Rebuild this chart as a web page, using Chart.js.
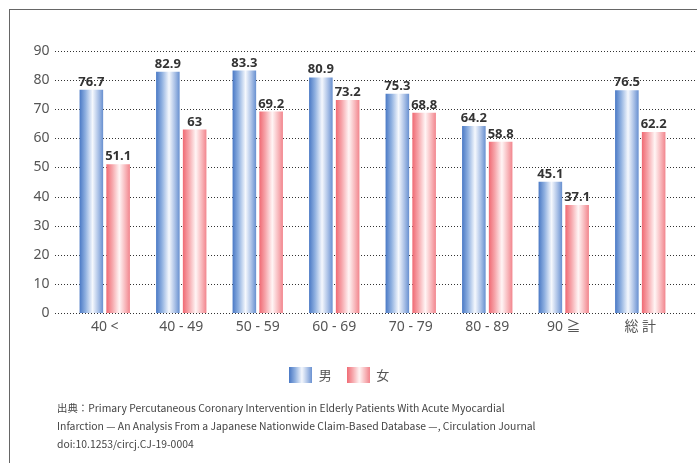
<!DOCTYPE html>
<html>
<head>
<meta charset="utf-8">
<script src="https://cdn.jsdelivr.net/npm/chart.js@4.4.1/dist/chart.umd.min.js"></script>
<style>
  html, body { margin: 0; padding: 0; background: #fff; }
  body { width: 697px; height: 463px; position: relative; overflow: hidden; }
  #frame { position: absolute; left: 9px; top: 9px; width: 800px; height: 600px; border: 1.5px solid #666; box-sizing: border-box; }
  #chart { position: absolute; left: 0; top: 0; }
  #source { position: absolute; left: 57px; top: 399px; font: 10.4px "Noto Sans CJK JP", sans-serif; line-height: 18px; color: #444; white-space: nowrap; }
</style>
</head>
<body>
<div id="frame"></div>
<canvas id="chart" width="697" height="463"></canvas>
<div id="source">
  出典：Primary Percutaneous Coronary Intervention in Elderly Patients With Acute Myocardial<br>
  Infarction — An Analysis From a Japanese Nationwide Claim-Based Database —, Circulation Journal<br>
  doi:10.1253/circj.CJ-19-0004
</div>
<script>
// data
const categories = ["40 <", "40 - 49", "50 - 59", "60 - 69", "70 - 79", "80 - 89", "90 ≧", "総 計"];
const seriesNames = ["男", "女"];
const maleValues = [76.7, 82.9, 83.3, 80.9, 75.3, 64.2, 45.1, 76.5];
const femaleValues = [51.1, 63, 69.2, 73.2, 68.8, 58.8, 37.1, 62.2];
const yTicks = [0, 10, 20, 30, 40, 50, 60, 70, 80, 90];

const CAT_PCT = 0.70;
const BAR_PCT = 0.88;

const blueStops = [[0, "#4a79c5"], [0.25, "#8fb0e0"], [0.55, "#f5f8fd"], [0.8, "#a9c0e6"], [1, "#6890d0"]];
const redStops = [[0, "#f06a73"], [0.25, "#f6a5aa"], [0.55, "#fff5f5"], [0.8, "#f8b8bc"], [1, "#f2858d"]];

// horizontal gradient across one bar, worked out from the x scale
function barFill(ctx, stops) {
  const chart = ctx.chart;
  const xs = chart.scales.x;
  if (ctx.type !== "data" || !xs || !xs.width) return stops[0][1];
  const cat = xs.width / categories.length;
  const slot = cat * CAT_PCT / 2;
  const cx = xs.getPixelForValue(ctx.dataIndex) + (ctx.datasetIndex - 0.5) * slot;
  const half = slot * BAR_PCT / 2;
  const g = chart.ctx.createLinearGradient(cx - half, 0, cx + half, 0);
  stops.forEach((s) => g.addColorStop(s[0], s[1]));
  return g;
}

// little swatch for the legend
function swatch(stops) {
  const c = document.createElement("canvas");
  c.width = 23;
  c.height = 16;
  const x = c.getContext("2d");
  const g = x.createLinearGradient(0, 0, 23, 0);
  stops.forEach((s) => g.addColorStop(s[0], s[1]));
  x.fillStyle = g;
  x.fillRect(0, 0, 23, 16);
  return c;
}

// dotted grid lines, running out to the right edge
const dottedGrid = {
  id: "dottedGrid",
  beforeDatasetsDraw(chart) {
    const ys = chart.scales.y;
    const c = chart.ctx;
    c.save();
    c.strokeStyle = "#333";
    c.lineWidth = 1;
    c.setLineDash([1, 2]);
    ys.ticks.forEach((t) => {
      const y = Math.round(ys.getPixelForValue(t.value)) + 0.5;
      c.beginPath();
      c.moveTo(55, y);
      c.lineTo(chart.width, y);
      c.stroke();
    });
    c.restore();
  },
};

// value labels over the bars
const valueLabels = {
  id: "valueLabels",
  afterDatasetsDraw(chart) {
    const c = chart.ctx;
    c.save();
    c.font = "bold 13px 'Open Sans', sans-serif";
    c.fillStyle = "#333";
    c.textAlign = "center";
    c.textBaseline = "alphabetic";
    chart.data.datasets.forEach((ds, di) => {
      chart.getDatasetMeta(di).data.forEach((bar, i) => {
        c.fillText(String(ds.data[i]), bar.x, bar.y - 4);
      });
    });
    c.restore();
  },
};

new Chart(document.getElementById("chart"), {
  type: "bar",
  data: {
    labels: categories,
    datasets: [
      {
        label: seriesNames[0],
        data: maleValues,
        backgroundColor: (ctx) => barFill(ctx, blueStops),
        categoryPercentage: CAT_PCT,
        barPercentage: BAR_PCT,
      },
      {
        label: seriesNames[1],
        data: femaleValues,
        backgroundColor: (ctx) => barFill(ctx, redStops),
        categoryPercentage: CAT_PCT,
        barPercentage: BAR_PCT,
      },
    ],
  },
  options: {
    responsive: false,
    animation: false,
    layout: { padding: { top: 51, right: 18.5, bottom: 71.5, left: 0 } },
    scales: {
      x: {
        grid: { display: false, drawTicks: false },
        border: { display: false },
        ticks: { padding: 6, color: "#555", font: { size: 14, family: "'Noto Sans', 'Noto Sans CJK JP', sans-serif" } },
        afterFit: (s) => { s.height = 40.5; },
      },
      y: {
        min: 0,
        max: 90,
        grid: { display: false, drawTicks: false },
        border: { display: false },
        afterBuildTicks: (s) => { s.ticks = yTicks.map((v) => ({ value: v })); },
        ticks: { padding: 17, color: "#555", font: { size: 14, family: "'Noto Sans', sans-serif" } },
        afterFit: (s) => { s.width = 66.5; },
      },
    },
    plugins: {
      tooltip: { enabled: false },
      legend: {
        position: "bottom",
        labels: {
          usePointStyle: true,
          pointStyleWidth: 23,
          padding: 15,
          color: "#555",
          font: { size: 13, family: "'Noto Sans CJK JP', sans-serif" },
          generateLabels: () => [
            { text: seriesNames[0], pointStyle: swatch(blueStops), fillStyle: "#5b86cc", strokeStyle: "rgba(0,0,0,0)", lineWidth: 0, fontColor: "#555", datasetIndex: 0 },
            { text: seriesNames[1], pointStyle: swatch(redStops), fillStyle: "#f27880", strokeStyle: "rgba(0,0,0,0)", lineWidth: 0, fontColor: "#555", datasetIndex: 1 },
          ],
        },
      },
    },
  },
  plugins: [dottedGrid, valueLabels],
});
</script>
</body>
</html>
